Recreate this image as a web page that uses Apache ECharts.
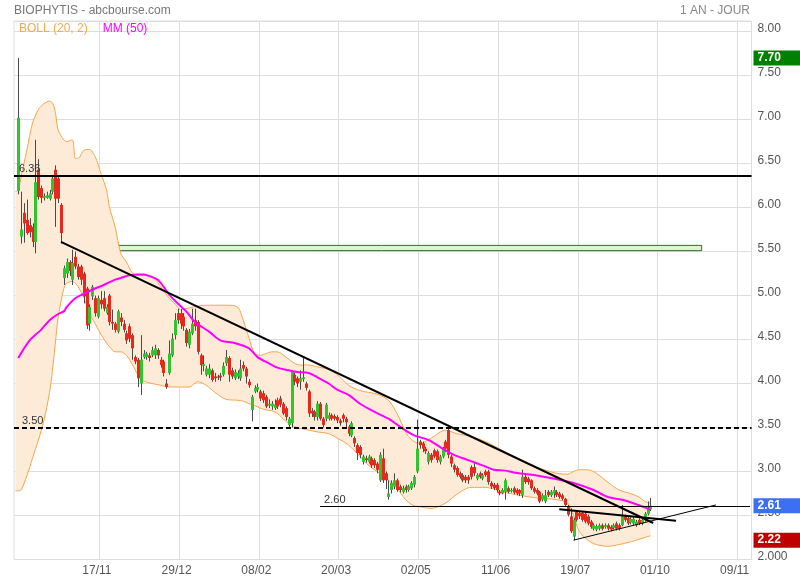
<!DOCTYPE html>
<html><head><meta charset="utf-8">
<script src="https://cdn.jsdelivr.net/npm/echarts@6/dist/echarts.min.js"></script>
<style>html,body{margin:0;padding:0;background:#fff}#c{width:800px;height:580px}</style>
</head><body><div id="c"></div>
<script>
// ---- axis / ticks ----
const tickLabels = ['17/11','29/12','08/02','20/03','02/05','11/06','19/07','01/10','09/11'];
const firstTick = 30, tickStep = 28, categoryCount = 259, firstCandle = 1;
const categories = Array.from({length: categoryCount}, (_, i) => 'j' + i);

// ---- daily candles [open, close, low, high] ----
const candles = [
[6.19,7.02,6.15,7.70],[5.67,5.75,5.59,6.18],[5.94,5.82,5.60,6.05],[5.86,5.71,5.69,6.09],[5.80,5.72,5.66,5.88],
[5.78,5.61,5.55,5.82],[5.61,6.29,5.48,6.77],[6.43,6.12,6.09,6.55],[6.22,6.11,6.05,6.25],[6.11,6.13,6.08,6.16],
[6.11,6.14,6.10,6.18],[6.10,6.16,6.08,6.20],[6.18,6.33,6.15,6.37],[6.43,6.10,5.78,6.48],[6.33,6.10,6.05,6.36],
[6.03,5.71,5.59,6.05],[5.20,5.31,5.12,5.34],[5.25,5.38,5.20,5.42],[5.38,5.28,5.22,5.40],[5.18,5.37,5.12,5.52],
[5.44,5.33,5.30,5.50],[5.33,5.21,5.18,5.36],[5.33,5.18,5.12,5.35],[5.25,4.99,4.91,5.27],[5.08,4.66,4.62,5.10],
[4.68,4.87,4.60,4.90],[4.99,5.10,4.95,5.12],[4.97,4.80,4.76,5.00],[4.76,4.97,4.74,5.00],[4.95,4.90,4.85,5.05],
[4.97,4.85,4.82,5.05],[4.80,4.87,4.78,4.90],[5.00,4.70,4.66,5.02],[4.70,4.68,4.61,4.84],[4.68,4.61,4.58,4.70],
[4.59,4.82,4.57,4.84],[4.75,4.70,4.65,4.80],[4.68,4.61,4.58,4.72],[4.57,4.49,4.45,4.60],[4.65,4.51,4.47,4.68],
[4.55,4.40,4.27,4.57],[4.30,4.25,4.22,4.32],[4.27,4.06,3.96,4.29],[4.00,4.27,3.87,4.55],[4.30,4.34,4.28,4.38],
[4.30,4.34,4.27,4.36],[4.32,4.29,4.25,4.35],[4.32,4.38,4.30,4.42],[4.32,4.40,4.28,4.44],[4.38,4.32,4.28,4.40],
[4.27,4.21,4.18,4.30],[4.25,4.12,4.08,4.27],[4.00,3.96,3.94,4.05],[4.12,4.34,4.10,4.49],[4.32,4.51,4.30,4.57],
[4.55,4.72,4.50,4.80],[4.80,4.72,4.68,4.85],[4.80,4.68,4.62,4.85],[4.76,4.65,4.60,4.80],[4.61,4.46,4.42,4.63],
[4.44,4.59,4.40,4.62],[4.57,4.68,4.55,4.85],[4.72,4.65,4.60,4.85],[4.70,4.36,4.33,4.72],[4.32,4.21,4.10,4.34],
[4.20,4.22,4.14,4.32],[4.10,4.17,4.08,4.20],[4.10,4.17,4.06,4.22],[4.15,4.04,4.02,4.17],[4.08,4.06,4.02,4.12],
[4.08,4.07,4.04,4.10],[4.09,4.07,4.03,4.12],[4.10,4.20,4.08,4.24],[4.23,4.30,4.20,4.38],[4.29,4.10,4.02,4.31],
[4.15,4.08,4.05,4.18],[4.06,4.13,4.04,4.16],[4.08,4.12,4.05,4.15],[4.06,4.17,4.03,4.27],[4.21,4.17,4.14,4.25],
[4.17,4.08,4.00,4.19],[4.02,3.98,3.95,4.05],[3.70,3.85,3.57,3.87],[3.91,3.95,3.89,3.98],[3.93,3.96,3.90,4.00],
[3.91,3.83,3.80,3.93],[3.89,3.81,3.78,3.92],[3.85,3.74,3.72,3.87],[3.75,3.77,3.72,3.82],[3.74,3.77,3.70,3.80],
[3.72,3.76,3.70,3.82],[3.81,3.74,3.71,3.84],[3.83,3.76,3.73,3.86],[3.77,3.66,3.64,3.79],[3.72,3.62,3.58,3.74],
[3.53,3.60,3.50,3.62],[3.55,4.13,3.50,4.15],[4.10,4.02,3.98,4.12],[4.06,4.00,3.96,4.08],[4.02,4.06,3.93,4.15],
[4.05,4.07,4.02,4.29],[4.00,3.95,3.92,4.02],[3.91,3.66,3.62,3.93],[3.69,3.66,3.62,3.72],[3.68,3.62,3.58,3.70],
[3.62,3.77,3.58,3.80],[3.77,3.60,3.58,3.79],[3.60,3.53,3.50,3.62],[3.60,3.76,3.57,3.78],[3.60,3.64,3.58,3.67],
[3.64,3.60,3.58,3.66],[3.63,3.60,3.58,3.65],[3.62,3.58,3.55,3.64],[3.58,3.55,3.52,3.60],[3.64,3.60,3.56,3.66],
[3.60,3.56,3.50,3.62],[3.51,3.43,3.40,3.53],[3.41,3.55,3.39,3.57],[3.38,3.32,3.28,3.40],[3.30,3.21,3.13,3.32],
[3.28,3.19,3.15,3.30],[3.11,3.17,3.08,3.19],[3.15,3.13,3.10,3.18],[3.11,3.17,3.09,3.19],[3.15,3.07,3.04,3.17],
[3.13,3.07,3.04,3.15],[3.09,3.02,2.98,3.11],[2.90,3.19,2.88,3.22],[3.15,2.90,2.87,3.26],[2.98,2.90,2.80,3.00],
[2.71,2.75,2.68,2.90],[2.79,2.87,2.75,2.90],[2.83,2.90,2.80,2.98],[2.90,2.79,2.77,2.92],[2.83,2.79,2.76,2.85],
[2.77,2.81,2.75,2.84],[2.83,2.79,2.76,2.85],[2.79,2.83,2.77,2.85],[2.81,2.87,2.79,2.89],[2.85,2.94,2.82,2.96],
[3.00,3.26,2.98,3.59],[3.34,3.30,3.26,3.36],[3.32,3.26,3.22,3.34],[3.26,3.23,3.20,3.28],[3.11,3.21,3.08,3.23],
[3.19,3.13,3.10,3.21],[3.24,3.17,3.15,3.26],[3.23,3.13,3.10,3.25],[3.11,3.17,3.08,3.19],[3.17,3.26,3.15,3.28],
[3.34,3.26,3.22,3.36],[3.47,3.19,3.15,3.53],[3.17,3.09,3.05,3.19],[3.07,3.02,2.99,3.09],[3.04,2.96,2.94,3.06],
[2.98,2.94,2.92,3.00],[2.96,2.90,2.88,2.98],[2.94,2.90,2.87,2.96],[2.94,2.90,2.86,2.96],[3.05,2.94,2.91,3.07],
[3.05,2.98,2.95,3.10],[2.92,2.96,2.90,2.98],[2.98,2.94,2.92,3.00],[2.92,2.96,2.90,2.98],[3.00,2.96,2.94,3.02],
[3.00,2.88,2.85,3.02],[2.87,2.83,2.80,2.89],[2.85,2.81,2.79,2.87],[2.85,2.79,2.76,2.87],[2.77,2.75,2.73,2.79],
[2.75,2.79,2.74,2.81],[2.77,2.90,2.68,2.92],[2.81,2.77,2.75,2.83],[2.78,2.79,2.76,2.81],[2.81,2.76,2.74,2.83],
[2.79,2.75,2.73,2.81],[2.79,2.75,2.72,2.80],[2.73,2.94,2.70,3.02],[2.94,2.88,2.86,2.96],[2.92,2.88,2.85,2.94],
[2.90,2.81,2.79,2.91],[2.81,2.77,2.75,2.83],[2.79,2.75,2.73,2.81],[2.77,2.66,2.64,2.78],[2.68,2.73,2.66,2.75],
[2.66,2.73,2.64,2.79],[2.77,2.73,2.71,2.79],[2.73,2.77,2.71,2.79],[2.75,2.79,2.70,2.83],[2.77,2.73,2.71,2.79],
[2.75,2.71,2.69,2.77],[2.73,2.69,2.67,2.75],[2.69,2.62,2.60,2.70],[2.60,2.51,2.49,2.62],[2.49,2.32,2.30,2.58],
[2.26,2.45,2.22,2.47],[2.54,2.45,2.43,2.56],[2.53,2.49,2.46,2.55],[2.53,2.45,2.43,2.55],[2.52,2.43,2.41,2.54],
[2.49,2.41,2.39,2.51],[2.43,2.37,2.35,2.45],[2.35,2.39,2.33,2.41],[2.34,2.38,2.32,2.40],[2.35,2.39,2.33,2.41],
[2.39,2.35,2.33,2.41],[2.37,2.39,2.35,2.41],[2.39,2.35,2.33,2.41],[2.37,2.34,2.32,2.39],[2.36,2.39,2.34,2.41],
[2.41,2.35,2.33,2.43],[2.39,2.35,2.33,2.41],[2.39,2.49,2.38,2.62],[2.49,2.45,2.43,2.51],[2.47,2.41,2.39,2.49],
[2.42,2.46,2.40,2.48],[2.41,2.46,2.39,2.48],[2.39,2.43,2.37,2.45],[2.45,2.41,2.39,2.47],[2.41,2.45,2.39,2.47],
[2.45,2.52,2.43,2.54],[2.52,2.58,2.50,2.66],[2.57,2.61,2.55,2.70]
];

// ---- MM(50) read at sample days ----
const mmIdx = [1,5,9,12,15,17,18,21,24,28,31,35,37,40,43,45,47,50,52,54,57,60,63,68,72,77,82,85,89,92,96,99,103,106,110,113,117,121,126,131,135,140,145,150,154,159,164,168,172,175,182,189,196,203,208,213,217,222,223];
const mmVal = [4.29,4.49,4.61,4.72,4.79,4.82,4.87,4.97,5.02,5.08,5.12,5.18,5.20,5.23,5.24,5.24,5.22,5.18,5.10,5.01,4.91,4.82,4.70,4.59,4.49,4.46,4.40,4.30,4.23,4.18,4.15,4.13,4.12,4.07,4.00,3.93,3.87,3.77,3.68,3.60,3.51,3.41,3.36,3.26,3.19,3.13,3.07,3.02,3.01,2.99,2.96,2.92,2.87,2.79,2.71,2.68,2.64,2.58,2.57];

// ---- BOLL(20,2) bands read at sample days ----
const bollIdx = [0,1,2,4,6,8,10,12,13,14,15,17,18,20,21,22,24,26,28,30,32,33,35,37,39,41,43,45,48,51,54,56,58,61,64,67,70,74,78,80,82,84,86,88,90,92,95,98,100,103,106,110,113,117,121,124,127,131,134,136,138,140,142,146,151,155,160,165,171,177,183,190,194,196,198,201,204,208,212,216,219,221,223];
const bollUpper = [6.18,6.20,6.35,6.65,6.96,7.11,7.18,7.21,7.19,7.09,6.88,6.77,6.75,6.77,6.56,6.56,6.65,6.66,6.58,6.39,6.20,6.01,5.78,5.48,5.38,5.26,5.23,5.23,5.22,5.10,4.97,4.91,4.84,4.86,4.88,4.89,4.89,4.89,4.87,4.72,4.52,4.34,4.32,4.34,4.36,4.36,4.30,4.23,4.21,4.21,4.19,4.16,4.10,3.98,3.92,3.90,3.88,3.81,3.66,3.52,3.40,3.34,3.32,3.38,3.47,3.43,3.40,3.34,3.24,3.13,3.05,2.98,2.97,3.00,3.02,3.02,2.98,2.88,2.79,2.75,2.71,2.66,2.64];
const bollLower = [2.78,2.78,2.79,2.95,3.15,3.35,3.58,3.90,4.15,4.45,4.75,5.08,5.14,5.16,5.14,5.10,4.98,4.80,4.68,4.56,4.46,4.42,4.36,4.36,4.32,4.22,4.10,4.03,4.00,3.98,3.96,3.96,3.96,3.96,4.02,3.98,3.90,3.82,3.81,3.80,3.77,3.75,3.72,3.70,3.69,3.66,3.57,3.51,3.49,3.47,3.45,3.43,3.38,3.30,3.17,3.07,3.00,2.90,2.81,2.72,2.65,2.61,2.60,2.58,2.64,2.74,2.82,2.82,2.77,2.73,2.70,2.68,2.64,2.50,2.32,2.22,2.17,2.15,2.17,2.20,2.23,2.25,2.27];

// ---- drawn levels / trend lines (day index, price) ----
const level636 = 6.36, level350 = 3.50, level260 = {from: 107, to: 258, value: 2.60};
const trendDown = [[16, 5.61], [224, 2.415]];
const trendFlat = [[191, 2.57], [232, 2.44]];
const trendUp = [[196, 2.22], [246, 2.62]];
const zoneBox = [[16, 5.57], [241, 5.51]];

const GREEN = '#2ec52e', RED = '#e52a1d', WICK = '#4a4a4a';
const highs = candles.map(d => d[3]), lows = candles.map(d => d[2]);
const maxHigh = Math.max(...highs), minLow = Math.min(...lows), lastClose = candles[candles.length - 1][1];

const chart = echarts.init(document.getElementById('c'), null, {renderer: 'canvas'});
const isTick = (i) => i >= firstTick && (i - firstTick) % tickStep === 0;
const tagLabel = (bg) => ({
  show: true, position: 'end', distance: 2, color: '#fff', fontWeight: 'bold', fontSize: 12,
  backgroundColor: bg, padding: [2, 20, 1, 4], formatter: (p) => p.value.toFixed(2)
});
const lvlLabel = (txt, dx) => ({show: true, position: 'insideStartTop', formatter: txt, color: '#333', fontSize: 11, distance: [dx, 1]});

chart.setOption({
  animation: false,
  textStyle: {fontFamily: 'Liberation Sans, Arial, sans-serif'},
  title: [
    {text: 'BIOPHYTIS - abcbourse.com', left: 14, top: 5, padding: 0, textStyle: {fontSize: 12, fontWeight: 'normal', color: '#777'}},
    {text: '1 AN - JOUR', right: 50, top: 5, padding: 0, textStyle: {fontSize: 12, fontWeight: 'normal', color: '#888'}}
  ],
  legend: {
    left: 14, top: 23, padding: 0, itemWidth: 0, itemHeight: 0, itemGap: 10, selectedMode: false,
    data: [
      {name: 'BOLL (20, 2)', icon: 'rect', textStyle: {color: '#f7a84f', fontSize: 12}},
      {name: 'MM (50)', icon: 'rect', textStyle: {color: '#ff00ff', fontSize: 12}}
    ]
  },
  grid: {left: 14, right: 48.5, top: 21, bottom: 20.5, show: true, borderColor: '#dddddd', borderWidth: 1, backgroundColor: 'transparent'},
  xAxis: {
    type: 'category', data: categories, boundaryGap: true,
    axisLine: {show: false}, axisTick: {show: false},
    axisLabel: {
      interval: (i) => isTick(i), color: '#555', fontSize: 12, margin: 5, padding: [0, 8, 0, 0],
      formatter: (v, i) => tickLabels[(i - firstTick) / tickStep] || ''
    },
    splitLine: {show: true, interval: (i) => isTick(i), lineStyle: {color: '#dddddd', width: 1}}
  },
  yAxis: {
    type: 'value', position: 'right', min: 2, max: 8.12, interval: 0.5, scale: true,
    axisLine: {show: false}, axisTick: {show: false},
    axisLabel: {color: '#555', fontSize: 12, margin: 6, verticalAlign: 'bottom', lineHeight: 5, showMaxLabel: false,
      formatter: (v) => v === 2 ? '2.000' : (v > 8.05 ? '' : v.toFixed(2))},
    splitLine: {lineStyle: {color: '#dddddd', width: 1}}
  },
  series: [
    {
      name: 'bollLower', type: 'line', stack: 'boll', smooth: 0.3, showSymbol: false, silent: true,
      data: bollIdx.map((i, k) => [i, bollLower[k]]),
      lineStyle: {color: '#f6a54c', width: 1}, z: 1
    },
    {
      name: 'BOLL (20, 2)', type: 'line', stack: 'boll', smooth: 0.3, showSymbol: false, silent: true,
      data: bollIdx.map((i, k) => [i, +(bollUpper[k] - bollLower[k]).toFixed(3)]),
      lineStyle: {color: '#f6a54c', width: 1}, areaStyle: {color: '#fdebd7', opacity: 1}, itemStyle: {color: '#f7a84f'}, z: 1
    },
    {
      name: 'cours', type: 'custom', z: 3, silent: true,
      data: candles.map((d, k) => [k + firstCandle, d[0], d[1], d[2], d[3]]),
      encode: {x: 0, y: [1, 2, 3, 4]},
      renderItem: (params, api) => {
        const i = api.value(0), o = api.value(1), c = api.value(2), l = api.value(3), h = api.value(4);
        const pO = api.coord([i, o]), pC = api.coord([i, c]), pL = api.coord([i, l]), pH = api.coord([i, h]);
        const xc = Math.round(pO[0]) + 0.5;
        const bw = 3;
        const top = Math.min(pO[1], pC[1]), hgt = Math.max(1.2, Math.abs(pO[1] - pC[1]));
        return {type: 'group', children: [
          {type: 'line', shape: {x1: xc, y1: pH[1], x2: xc, y2: pL[1]}, style: {stroke: WICK, lineWidth: 1}},
          {type: 'rect', shape: {x: xc - bw / 2, y: top, width: bw, height: hgt}, style: {fill: c >= o ? GREEN : RED}}
        ]};
      }
    },
    {
      name: 'MM (50)', type: 'line', smooth: 0.3, showSymbol: false, silent: true, z: 4,
      data: mmIdx.map((i, k) => [i, mmVal[k]]),
      lineStyle: {color: '#ff00ff', width: 2}, itemStyle: {color: '#ff00ff'},
      markArea: {
        silent: true,
        itemStyle: {color: '#dcf5cf', borderColor: '#2d6e2d', borderWidth: 1},
        data: [[{coord: zoneBox[0]}, {coord: zoneBox[1]}]]
      },
      markLine: {
        silent: true, symbol: ['none', 'none'], animation: false,
        data: [
          {yAxis: level636, lineStyle: {color: '#000', width: 2, type: 'solid'}, label: lvlLabel('6.36', 5)},
          {yAxis: level350, lineStyle: {color: '#000', width: 2, type: [5, 3]}, label: lvlLabel('3.50', 8)},
          [{coord: [level260.from, level260.value], lineStyle: {color: '#000', width: 1, type: 'solid'}, label: lvlLabel('2.60', 4)},
           {coord: [level260.to, level260.value]}],
          [{coord: trendDown[0], lineStyle: {color: '#000', width: 2, type: 'solid'}, label: {show: false}}, {coord: trendDown[1]}],
          [{coord: trendFlat[0], lineStyle: {color: '#000', width: 2, type: 'solid'}, label: {show: false}}, {coord: trendFlat[1]}],
          [{coord: trendUp[0], lineStyle: {color: '#000', width: 1, type: 'solid'}, label: {show: false}}, {coord: trendUp[1]}],
          {yAxis: maxHigh, lineStyle: {color: 'rgba(0,0,0,0)', width: 0}, label: tagLabel('#008000')},
          {yAxis: lastClose, lineStyle: {color: 'rgba(0,0,0,0)', width: 0}, label: tagLabel('#3d6ff5')},
          {yAxis: minLow, lineStyle: {color: 'rgba(0,0,0,0)', width: 0}, label: tagLabel('#c00000')}
        ]
      }
    }
  ]
});
</script>
</body></html>
